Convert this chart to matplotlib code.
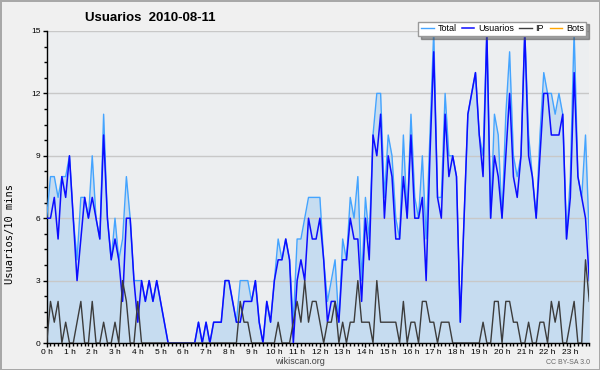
import numpy as np
import matplotlib.pyplot as plt
from matplotlib.ticker import MultipleLocator

plt.rcParams['font.family'] = ['Liberation Sans', 'DejaVu Sans']

# valores cada 10 minutos (144 puntos, 00:00 -> 23:50)
usuarios = [6, 6, 7, 5, 8, 7, 9, 6, 3, 5,
            7, 6, 7, 6, 5, 10, 6, 4, 5, 4,
            2, 6, 6, 3, 1, 3, 2, 3, 2, 3,
            2, 1, 0, 0, 0, 0, 0, 0, 0, 0,
            1, 0, 1, 0, 1, 1, 1, 3, 3, 2,
            1, 1, 2, 2, 2, 3, 1, 0, 2, 1,
            3, 4, 4, 5, 4, 0, 3, 4, 3, 6,
            5, 5, 6, 4, 1, 2, 2, 1, 4, 4,
            6, 5, 5, 2, 6, 4, 10, 9, 11, 6,
            9, 8, 5, 5, 8, 6, 10, 6, 6, 7,
            3, 9, 14, 7, 6, 11, 8, 9, 8, 1,
            6, 11, 12, 13, 10, 8, 15, 6, 9, 8,
            6, 9, 12, 8, 7, 9, 15, 9, 8, 6,
            9, 12, 12, 10, 10, 10, 11, 5, 7, 13,
            8, 7, 6, 3]

ip = [0, 2, 1, 2, 0, 1, 0, 0, 1, 2,
      0, 0, 2, 0, 0, 1, 0, 0, 1, 0,
      3, 2, 0, 0, 2, 0, 0, 0, 0, 0,
      0, 0, 0, 0, 0, 0, 0, 0, 0, 0,
      0, 0, 0, 0, 0, 0, 0, 0, 0, 0,
      0, 2, 1, 1, 0, 0, 0, 0, 0, 0,
      0, 1, 0, 0, 0, 1, 2, 1, 3, 1,
      2, 2, 1, 0, 1, 1, 2, 0, 1, 0,
      1, 1, 3, 1, 1, 1, 0, 3, 1, 1,
      1, 1, 1, 0, 2, 0, 1, 1, 0, 2,
      2, 1, 1, 0, 1, 1, 1, 0, 0, 0,
      0, 0, 0, 0, 0, 1, 0, 0, 2, 2,
      0, 2, 2, 1, 1, 0, 0, 1, 0, 0,
      1, 1, 0, 2, 1, 2, 0, 0, 1, 2,
      0, 0, 4, 2]

total = [6, 8, 8, 7, 8, 8, 9, 6, 4, 7,
         7, 6, 9, 6, 5, 11, 6, 4, 6, 4,
         5, 8, 6, 3, 3, 3, 2, 3, 2, 3,
         2, 1, 0, 0, 0, 0, 0, 0, 0, 0,
         1, 0, 1, 0, 1, 1, 1, 3, 3, 2,
         1, 3, 3, 3, 2, 3, 1, 0, 2, 1,
         3, 5, 4, 5, 4, 1, 5, 5, 6, 7,
         7, 7, 7, 4, 2, 3, 4, 1, 5, 4,
         7, 6, 8, 3, 7, 5, 10, 12, 12, 7,
         10, 9, 6, 5, 10, 6, 11, 7, 6, 9,
         5, 10, 15, 7, 7, 12, 9, 9, 8, 1,
         6, 11, 12, 13, 10, 9, 15, 6, 11, 10,
         6, 11, 14, 9, 8, 9, 15, 10, 8, 6,
         10, 13, 12, 12, 11, 12, 11, 5, 8, 15,
         8, 7, 10, 5]

bots = [0] * 144

horas = np.arange(len(total)) / 6.0
etiquetas_x = ['%d h' % h for h in range(24)]

fig = plt.figure(figsize=(6, 3.7), dpi=100, facecolor='#f0f0f0',
                 edgecolor='#a8a8a8', linewidth=2)
ax = fig.add_axes([46.7 / 600, 27 / 370, 542.6 / 600, 312 / 370])
ax.set_facecolor('#eceef0')

# relleno del total y las curvas
ax.fill_between(horas, 0, total, color='#c6dcf0', lw=0, zorder=1)
ax.plot(horas, bots, color='#ffa500', lw=1, zorder=0.5, label='Bots')
ax.plot(horas, total, color='#44a4ff', lw=1, zorder=3, label='Total')
ax.plot(horas, usuarios, color='#0c0cff', lw=1.1, zorder=4, label='Usuarios')
ax.plot(horas, ip, color='#3c3c3c', lw=1, zorder=5, label='IP')

ax.set_xlim(0, horas[-1])
ax.set_ylim(0, 15)

ax.set_axisbelow('line')
ax.grid(axis='y', color='#c8c8c8', lw=1)

for s in ['top', 'right']:
    ax.spines[s].set_visible(False)
for s in ['left', 'bottom']:
    ax.spines[s].set_color('black')
    ax.spines[s].set_linewidth(1)

ax.set_xticks(np.arange(24))
ax.set_xticklabels(etiquetas_x)
ax.xaxis.set_minor_locator(MultipleLocator(1 / 6))
ax.set_yticks(np.arange(0, 16, 3))
ax.yaxis.set_minor_locator(MultipleLocator(0.75))
ax.tick_params(which='major', length=3, width=1, direction='out', labelsize=6, pad=1.5)
ax.tick_params(which='minor', length=2.5, width=1, direction='out')

# textos
fig.text(85 / 600, 1 - 18 / 370, 'Usuarios  2010-08-11', fontsize=9.5,
         fontweight='bold', ha='left', va='center')
fig.text(10 / 600, 1 - 234 / 370, 'Usuarios/10 mins', rotation=90,
         family='DejaVu Sans Mono', fontsize=7.5, ha='center', va='center')
fig.text(0.5, 1 - 362 / 370, 'wikiscan.org', fontsize=6.5, color='#444444',
         ha='center', va='center')
fig.text(590 / 600, 1 - 362 / 370, 'CC BY-SA 3.0', fontsize=5, color='#666666',
         ha='right', va='center')

# leyenda en el orden Total, Usuarios, IP, Bots
h, l = ax.get_legend_handles_labels()
orden = [1, 2, 3, 0]
leg = ax.legend([h[i] for i in orden], [l[i] for i in orden], loc='upper right',
                bbox_to_anchor=(591 / 600, 1 - 17 / 370), bbox_transform=fig.transFigure,
                ncol=4, fontsize=6.5, handlelength=1.4, handletextpad=0.4,
                columnspacing=0.6, borderpad=0.3, fancybox=False, shadow=True,
                framealpha=1, edgecolor='#999999')
leg.set_zorder(10)

fig.savefig('out.png', dpi=100, facecolor=fig.get_facecolor(),
            edgecolor=fig.get_edgecolor())
